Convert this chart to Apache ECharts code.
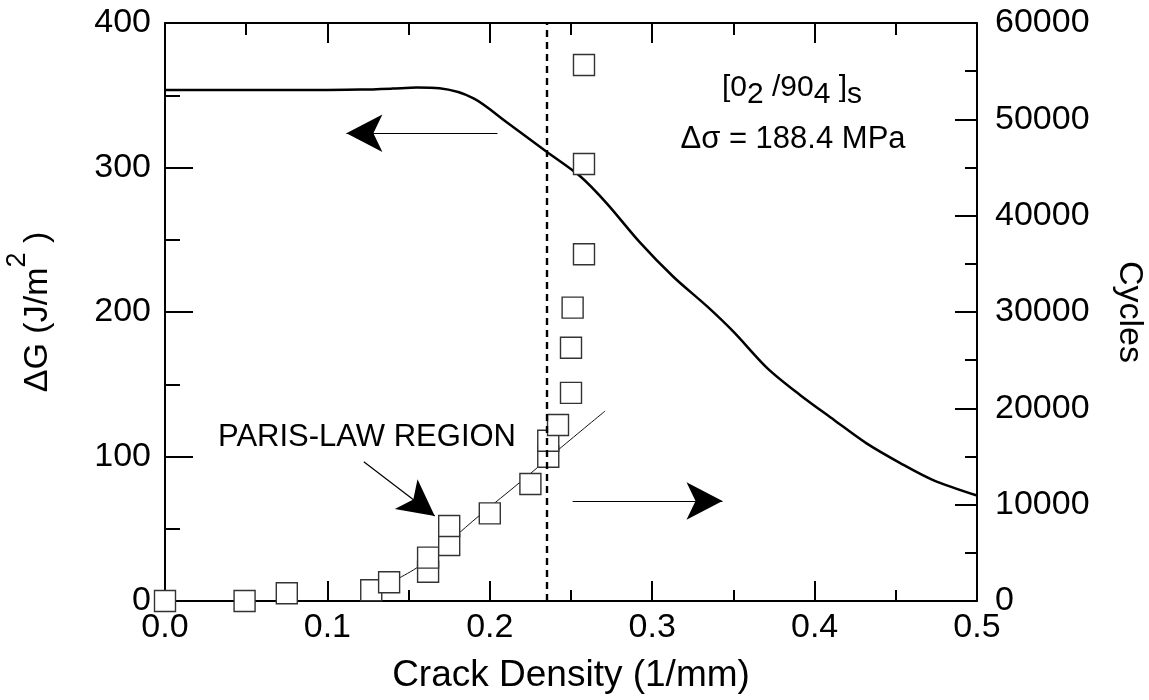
<!DOCTYPE html>
<html><head><meta charset="utf-8">
<script src="https://cdn.jsdelivr.net/npm/echarts@6/dist/echarts.min.js"></script>
<style>html,body{margin:0;padding:0;background:#fff}#chart{width:1149px;height:700px}</style>
</head><body><div id="chart"></div>
<script>
// ---- data ----
// Energy release rate curve (left axis, J/m^2) vs crack density (1/mm)
const curveX      = [0.000, 0.050, 0.100, 0.120, 0.140, 0.155, 0.169, 0.190, 0.210, 0.235, 0.256, 0.272, 0.292, 0.313, 0.334, 0.350, 0.371, 0.391, 0.412, 0.432, 0.453, 0.473, 0.500];
const curveDeltaG = [353.6, 353.6, 353.7, 353.9, 354.6, 355.3, 354.8, 347.9, 331.7, 310.9, 293.6, 275.2, 248.7, 224.4, 203.7, 186.4, 161.0, 142.6, 125.3, 109.1,  95.3,  83.7,  73.0];
// Measured crack density vs cycles (right axis)
const squareX      = [0.000, 0.049, 0.075, 0.127, 0.138, 0.162, 0.162, 0.175, 0.175, 0.200, 0.225, 0.236, 0.236, 0.242, 0.250, 0.250, 0.251, 0.258, 0.258, 0.258];
const squareCycles = [0, 0, 800, 1110, 1940, 3040, 4500, 5810, 7790, 9100, 12150, 14980, 16640, 18270, 21600, 26290, 30450, 35990, 45360, 55640];
// Paris-law fit line (right axis)
const parisX      = [0.132, 0.156, 0.194, 0.219, 0.244, 0.271];
const parisCycles = [1350, 3560, 8930, 12380, 15950, 19720];
// Critical crack density (dashed line)
const criticalDensity = 0.2353;
// Axis ranges / tick steps
const xRange = [0, 0.5], xStep = 0.1;
const gRange = [0, 400], gStep = 100;
const cRange = [0, 60000], cStep = 10000;
// Annotation arrows (tail -> tip), in data units of the left axis: [x1, y1, x2, y2]
const arrowLeft  = [0.2047, 323.7, 0.1117, 323.7];
const arrowRight = [0.2510,  69.2, 0.3433,  69.2];
const arrowParis = [0.1224,  96.4, 0.1661,  58.8];

const FONT = '"Liberation Sans", Arial, Helvetica, sans-serif';
const chart = echarts.init(document.getElementById('chart'));
const zip = (a, b) => a.map((v, i) => [v, b[i]]);
const arrowPair = a => [{ coord: [a[0], a[1]] }, { coord: [a[2], a[3]] }];
const axisLine = { show: true, onZero: false, lineStyle: { color: '#000', width: 2 } };
const tickStyle = { color: '#000', width: 2 };

chart.setOption({
  animation: false,
  backgroundColor: '#fff',
  grid: { left: 165, right: 172, top: 23, bottom: 99, containLabel: false, outerBoundsMode: 'none' },
  xAxis: [
    {
      type: 'value', position: 'bottom', min: xRange[0], max: xRange[1], interval: xStep,
      axisLine,
      axisTick: { show: true, inside: true, length: 20, lineStyle: tickStyle },
      minorTick: { show: true, splitNumber: 2, length: 11, lineStyle: tickStyle },
      splitLine: { show: false },
      axisLabel: { margin: 10, color: '#000', fontSize: 34, fontFamily: FONT, formatter: v => v.toFixed(1) },
      name: 'Crack Density (1/mm)', nameLocation: 'middle', nameGap: 56,
      nameTextStyle: { color: '#000', fontSize: 37, fontFamily: FONT }
    },
    {
      type: 'value', position: 'top', min: xRange[0], max: xRange[1], interval: xStep,
      axisLine,
      axisTick: { show: true, inside: true, length: 20, lineStyle: tickStyle },
      minorTick: { show: true, splitNumber: 2, length: 12, lineStyle: tickStyle },
      splitLine: { show: false },
      axisLabel: { show: false }
    }
  ],
  yAxis: [
    {
      type: 'value', position: 'left', min: gRange[0], max: gRange[1], interval: gStep,
      axisLine,
      axisTick: { show: true, inside: true, length: 28, lineStyle: tickStyle },
      minorTick: { show: true, splitNumber: 2, length: 15, lineStyle: tickStyle },
      splitLine: { show: false },
      axisLabel: { margin: 14, color: '#000', fontSize: 34, fontFamily: FONT, formatter: v => String(v) },
      name: '{n|ΔG (J/m}{sup|2}{n| )}', nameLocation: 'middle', nameGap: 110,
      nameTextStyle: {
        color: '#000', fontSize: 34, fontFamily: FONT,
        rich: {
          n: { fontSize: 34, fontFamily: FONT, color: '#000', verticalAlign: 'bottom' },
          sup: { fontSize: 27, fontFamily: FONT, color: '#000', verticalAlign: 'top', padding: [0, 0, 24, 0] }
        }
      }
    },
    {
      type: 'value', position: 'right', min: cRange[0], max: cRange[1], interval: cStep,
      axisLine,
      axisTick: { show: true, inside: true, length: 22, lineStyle: tickStyle },
      minorTick: { show: true, splitNumber: 2, length: 12, lineStyle: tickStyle },
      splitLine: { show: false },
      axisLabel: { margin: 18, color: '#000', fontSize: 34, fontFamily: FONT, formatter: v => String(v) },
      name: 'Cycles', nameLocation: 'middle', nameGap: 135, nameRotate: -90,
      nameTextStyle: { color: '#000', fontSize: 34, fontFamily: FONT }
    }
  ],
  series: [
    {
      name: 'ΔG', type: 'line', xAxisIndex: 0, yAxisIndex: 0, z: 3,
      data: zip(curveX, curveDeltaG),
      showSymbol: false, symbol: 'none', smooth: 0.3,
      lineStyle: { color: '#000', width: 2.5 },
      emphasis: { disabled: true },
      markLine: {
        silent: true, animation: false, precision: 6,
        symbol: ['none', 'arrow'], symbolSize: [28, 36],
        label: { show: false },
        lineStyle: { color: '#000', width: 1.2, type: 'solid' },
        emphasis: { disabled: true },
        data: [arrowPair(arrowLeft), arrowPair(arrowRight), arrowPair(arrowParis)]
      }
    },
    {
      name: 'Paris fit', type: 'line', xAxisIndex: 0, yAxisIndex: 1, z: 2,
      data: zip(parisX, parisCycles),
      showSymbol: false, symbol: 'none', smooth: 0.3,
      lineStyle: { color: '#111', width: 1 },
      emphasis: { disabled: true }
    },
    {
      name: 'Cycles', type: 'scatter', xAxisIndex: 0, yAxisIndex: 1, z: 4, clip: false,
      data: zip(squareX, squareCycles),
      symbol: 'rect', symbolSize: 21,
      itemStyle: { color: '#fff', borderColor: '#333', borderWidth: 1.4, opacity: 1 },
      emphasis: { disabled: true }
    },
    {
      name: 'critical', type: 'line', xAxisIndex: 0, yAxisIndex: 0, z: 5,
      data: [], symbol: 'none',
      markLine: {
        silent: true, animation: false, precision: 6, symbol: ['none', 'none'],
        label: { show: false },
        lineStyle: { color: '#000', width: 2.4, type: [7, 5] },
        emphasis: { disabled: true },
        data: [{ xAxis: criticalDensity }]
      }
    }
  ],
  graphic: [
    {
      type: 'text', x: 792, y: 73, z: 10,
      style: {
        text: '{m|[0}{s|2}{m| /90}{s|4}{m| ]}{s|s}',
        textAlign: 'center', textVerticalAlign: 'top',
        rich: {
          m: { fontSize: 30, fontFamily: FONT, fill: '#000', verticalAlign: 'top' },
          s: { fontSize: 30, fontFamily: FONT, fill: '#000', verticalAlign: 'top', padding: [7, 0, 0, 0] }
        }
      }
    },
    {
      type: 'text', x: 793, y: 124, z: 10,
      style: { text: 'Δσ = 188.4 MPa', textAlign: 'center', textVerticalAlign: 'top', fontSize: 31, fontFamily: FONT, fill: '#000' }
    },
    {
      type: 'text', x: 367, y: 422, z: 10,
      style: { text: 'PARIS-LAW REGION', textAlign: 'center', textVerticalAlign: 'top', fontSize: 31, fontFamily: FONT, fill: '#000' }
    }
  ]
});
</script></body></html>
